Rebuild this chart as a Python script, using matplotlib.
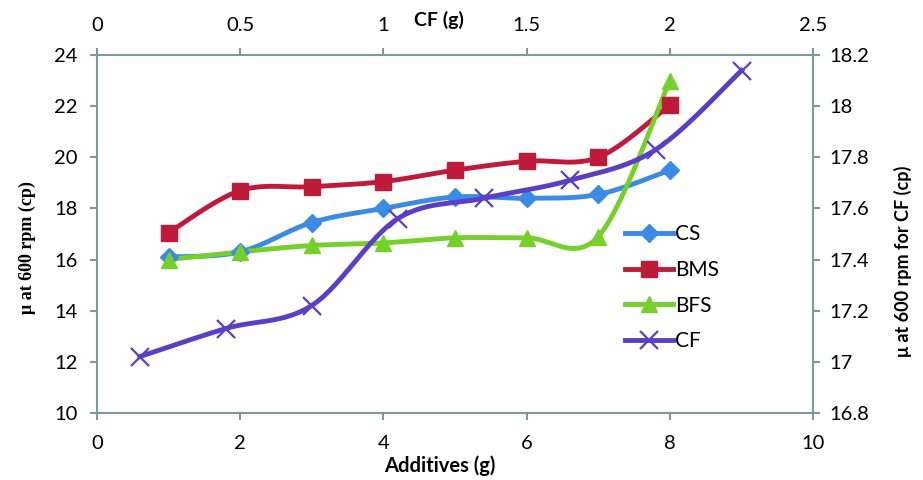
import matplotlib.pyplot as plt
import numpy as np

plt.rcParams['font.family'] = ['Lato', 'DejaVu Sans']

additives = [1, 2, 3, 4, 5, 6, 7, 8]
cs = [16.1, 16.3, 17.45, 18.0, 18.45, 18.4, 18.55, 19.5]
bms = [17.05, 18.7, 18.85, 19.05, 19.5, 19.85, 20.0, 22.05]
bfs = [16.0, 16.3, 16.55, 16.65, 16.85, 16.85, 16.9, 23.0]

cf_g = [0.15, 0.45, 0.75, 1.05, 1.35, 1.65, 1.95, 2.25]
cf = [17.02, 17.13, 17.22, 17.56, 17.64, 17.71, 17.83, 18.14]

blue = '#3a8ae6'
red = '#c01a3a'
green = '#76d02a'
purple = '#5a3ec8'
axcol = '#82979a'


def smooth(x, y, n=30):
    # excel-style smoothed line (catmull-rom bezier through the points)
    x = np.asarray(x, float)
    y = np.asarray(y, float)
    px = np.concatenate([[x[0]], x, [x[-1]]])
    py = np.concatenate([[y[0]], y, [y[-1]]])
    t = np.linspace(0, 1, n)[:, None]
    xs, ys = [], []
    for i in range(1, len(px) - 2):
        p0 = np.array([px[i], py[i]])
        p3 = np.array([px[i + 1], py[i + 1]])
        c1 = p0 + (p3 - np.array([px[i - 1], py[i - 1]])) / 6
        c2 = p3 - (np.array([px[i + 2], py[i + 2]]) - p0) / 6
        b = ((1 - t) ** 3) * p0 + 3 * ((1 - t) ** 2) * t * c1 + 3 * (1 - t) * t ** 2 * c2 + t ** 3 * p3
        xs.append(b[:, 0])
        ys.append(b[:, 1])
    return np.concatenate(xs), np.concatenate(ys)


fig = plt.figure(figsize=(9.23, 4.8), dpi=100)
ax = fig.add_axes([0.105, 0.14, 0.776, 0.745])
ax2 = fig.add_axes(ax.get_position(), frameon=False)

lw = 3.5
for ys, col, mk, ms, lab in [(cs, blue, 'D', 9.5, 'CS'), (bms, red, 's', 12, 'BMS'),
                             (bfs, green, '^', 12, 'BFS')]:
    sx, sy = smooth(additives, ys)
    ax.plot(sx, sy, color=col, lw=lw, zorder=2)
    ax.plot(additives, ys, ls='none', marker=mk, ms=ms, color=col, zorder=3)
    ax.plot([], [], color=col, lw=lw, marker=mk, ms=ms, label=lab)

sx, sy = smooth(cf_g, cf)
ax2.plot(sx, sy, color=purple, lw=lw, zorder=2)
ax2.plot(cf_g, cf, ls='none', marker='x', ms=13, mew=1.6, color=purple, zorder=3)

ax.set_xlim(0, 10)
ax.set_ylim(10, 24)
ax.set_xticks(range(0, 11, 2))
ax.set_yticks(range(10, 25, 2))
ax2.set_xlim(0, 2.5)
ax2.set_ylim(16.8, 18.2)
ax2.set_xticks([0, 0.5, 1, 1.5, 2, 2.5])
ax2.set_xticklabels(['0', '0.5', '1', '1.5', '2', '2.5'])
ax2.set_yticks([16.8, 17, 17.2, 17.4, 17.6, 17.8, 18, 18.2])
ax2.set_yticklabels(['16.8', '17', '17.2', '17.4', '17.6', '17.8', '18', '18.2'])
ax2.xaxis.tick_top()
ax2.yaxis.tick_right()

for s in ax.spines.values():
    s.set_color(axcol)
    s.set_linewidth(1.5)
for a in (ax, ax2):
    a.tick_params(colors=axcol, labelcolor='black', labelsize=14.5, width=1.5, length=5, pad=7)
ax.tick_params(axis='x', pad=11)
ax.tick_params(axis='y', pad=9)
ax2.tick_params(axis='x', pad=10)

handles, labels = ax.get_legend_handles_labels()
handles.append(plt.Line2D([], [], color=purple, lw=lw, marker='x', ms=13, mew=1.6))
labels.append('CF')
ax2.legend(handles, labels, loc='upper left', bbox_to_anchor=(0.668, 0.55),
           bbox_transform=fig.transFigure, frameon=False, fontsize=15,
           handlelength=2.3, handletextpad=0.1, labelspacing=0.75, borderaxespad=0)

fig.text(0.476, 0.958, 'CF (g)', fontsize=14, fontweight='bold', ha='center', va='center')
fig.text(0.476, 0.03, 'Additives (g)', fontsize=14.5, fontweight='bold', ha='center', va='center')
fig.text(0.03, 0.485, 'μ at 600 rpm (cp)', fontsize=13, fontweight='bold', rotation=90,
         ha='center', va='center', family=['Liberation Serif', 'DejaVu Serif'])
fig.text(0.978, 0.455, 'μ at 600 rpm for CF (cp)', fontsize=13, fontweight='bold', rotation=90,
         ha='center', va='center')

fig.savefig('out.png', dpi=100)
